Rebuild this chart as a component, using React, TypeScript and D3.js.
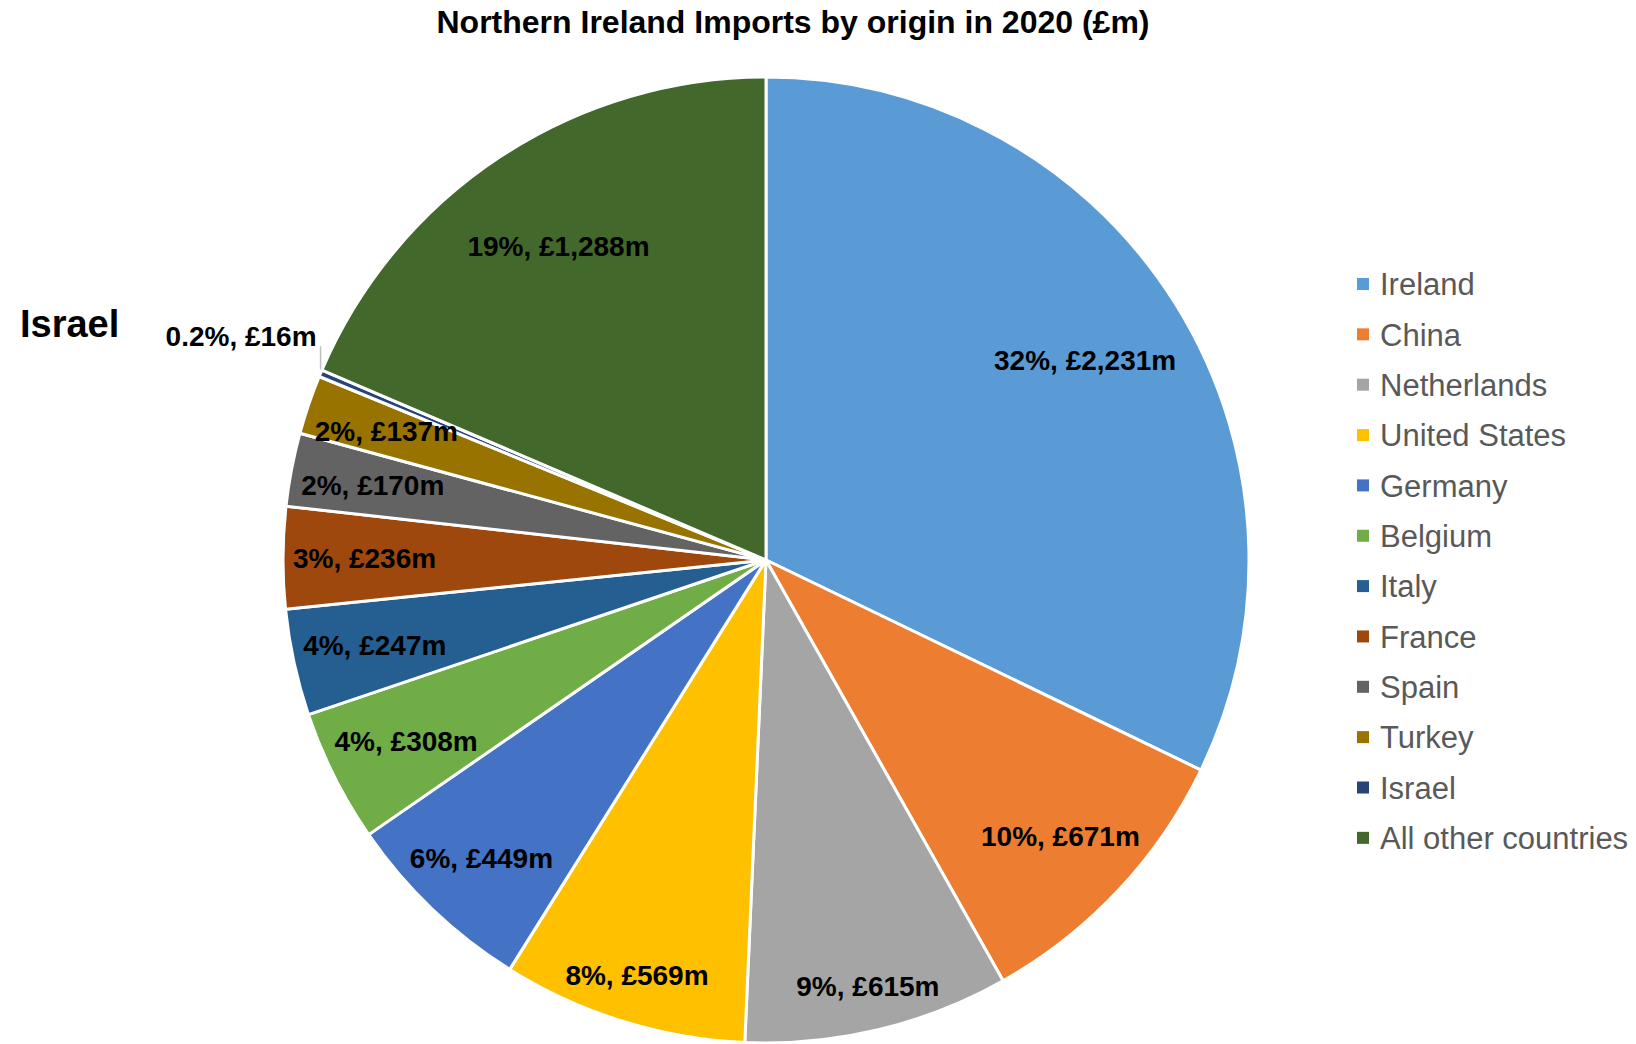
import React, { useEffect, useMemo } from 'react';
import * as d3 from 'd3';

// Values (2020, £m)
const countries = [
    'Ireland', 'China', 'Netherlands', 'United States', 'Germany', 'Belgium',
    'Italy', 'France', 'Spain', 'Turkey', 'Israel', 'All other countries',
];
const imports = [2231, 671, 615, 569, 449, 308, 247, 236, 170, 137, 16, 1288];
const colors = [
    '#5B9BD5', '#ED7D31', '#A5A5A5', '#FFC000', '#4472C4', '#70AD47',
    '#255E91', '#9E480E', '#636363', '#997300', '#264478', '#43682B',
];

const title = 'Northern Ireland Imports by origin in 2020 (£m)';
const callout = 'Israel';

const W = 1636;
const H = 1044;
const FONT = '"Liberation Sans", Arial, Helvetica, sans-serif';

interface Slice {
    name: string;
    value: number;
    color: string;
}

const data: Slice[] = countries.map((name, i) => ({ name, value: imports[i], color: colors[i] }));

const App: React.FC = () => {
    useEffect(() => {
        document.body.style.margin = '0';
    }, []);

    const cx = 766;
    const cy = 560;
    const radius = 483;

    const total = d3.sum(imports);
    const fmtMoney = d3.format(',');
    const labelText = (v: number) => {
        const share = v / total;
        const pct = share < 0.01 ? d3.format('.1%')(share) : d3.format('.0%')(share);
        return `${pct}, £${fmtMoney(v)}m`;
    };

    const arcs = useMemo(() => {
        const pie = d3.pie<Slice>().sort(null).value(d => d.value).startAngle(0).endAngle(2 * Math.PI);
        return pie(data);
    }, []);

    const arc = d3.arc<d3.PieArcDatum<Slice>>().innerRadius(0).outerRadius(radius);

    // text measuring for label fitting
    const measure = useMemo(() => {
        const ctx = document.createElement('canvas').getContext('2d');
        return (txt: string, font: string) => {
            if (!ctx) return txt.length * 15;
            ctx.font = font;
            return ctx.measureText(txt).width;
        };
    }, []);

    const labelSize = 28;
    const labelFont = `bold ${labelSize}px ${FONT}`;

    // distance from centre so that the label box just stays inside the circle
    const fitRadius = (angle: number, w: number, h: number, bound: number) => {
        const a = Math.abs(Math.sin(angle)) * w / 2 + Math.abs(Math.cos(angle)) * h / 2;
        const c = (w / 2) ** 2 + (h / 2) ** 2 - bound * bound;
        return -a + Math.sqrt(a * a - c);
    };

    return (
        <svg width={W} height={H} style={{ display: 'block', background: '#fff' }} fontFamily={FONT}>
            <text x={793} y={33} textAnchor="middle" fontSize={32} fontWeight="bold" fill="#000">
                {title}
            </text>

            <g transform={`translate(${cx},${cy})`}>
                {arcs.map((d, i) => (
                    <path key={i} d={arc(d) || ''} fill={d.data.color} stroke="#fff" strokeWidth={3} strokeLinejoin="round" />
                ))}
                {arcs.map((d, i) => {
                    const mid = (d.startAngle + d.endAngle) / 2;
                    const share = d.data.value / total;
                    const txt = labelText(d.data.value);
                    const sx = Math.sin(mid);
                    const sy = -Math.cos(mid);
                    if (share < 0.01) {
                        // outside label with a short leader
                        const ex = radius * sx;
                        const ey = radius * sy - 4;
                        const top = ey - 23;
                        return (
                            <g key={`l${i}`}>
                                <line x1={ex} y1={ey} x2={ex} y2={top} stroke="#BFBFBF" strokeWidth={1.5} />
                                <text x={ex - 4} y={top} textAnchor="end" fontSize={labelSize} fontWeight="bold" fill="#000">
                                    {txt}
                                </text>
                            </g>
                        );
                    }
                    const w = measure(txt, labelFont);
                    const h = labelSize;
                    const dist = share > 0.15 ? radius * 0.78 : fitRadius(mid, w, h, radius * 0.98);
                    return (
                        <text key={`l${i}`} x={dist * sx} y={dist * sy} dy="0.36em" textAnchor="middle"
                            fontSize={labelSize} fontWeight="bold" fill="#000">
                            {txt}
                        </text>
                    );
                })}
            </g>

            <text x={20} y={337} fontSize={38} fontWeight="bold" fill="#000">{callout}</text>

            <g transform="translate(1357,284)">
                {data.map((d, i) => (
                    <g key={d.name} transform={`translate(0,${i * 50.35})`}>
                        <rect x={0} y={-6} width={12} height={12} fill={d.color} />
                        <text x={23} y={0} dy="0.36em" fontSize={31} fill="#595959">{d.name}</text>
                    </g>
                ))}
            </g>
        </svg>
    );
};

export default App;
